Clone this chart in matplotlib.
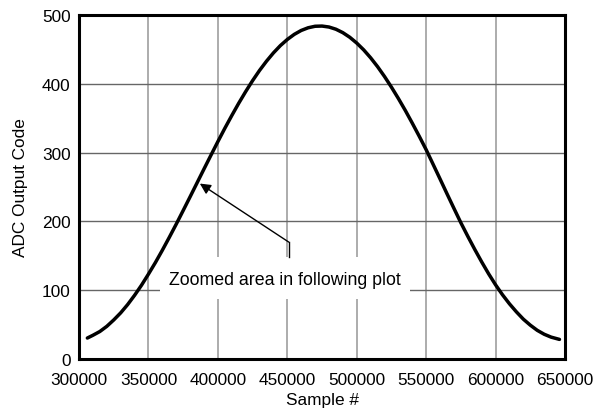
import matplotlib
matplotlib.use("Agg")
import matplotlib.pyplot as plt
from matplotlib.patches import Rectangle

plt.rcParams['font.family'] = ['Liberation Sans', 'DejaVu Sans']

sample = [306000, 310000, 315000, 320000, 325000, 330000, 335000, 340000, 345000,
          350000, 355000, 360000, 365000, 370000, 375000, 380000, 385000, 390000,
          395000, 400000, 405000, 410000, 415000, 420000, 425000, 430000, 435000,
          440000, 445000, 450000, 455000, 460000, 465000, 470000, 475000, 480000,
          485000, 490000, 495000, 500000, 505000, 510000, 515000, 520000, 525000,
          530000, 535000, 540000, 545000, 550000, 555000, 560000, 565000, 570000,
          575000, 580000, 585000, 590000, 595000, 600000, 605000, 610000, 615000,
          620000, 625000, 630000, 635000, 640000, 646000]
code = [30.5, 34.5, 40.0, 47.5, 56.8, 67.1, 79.1, 92.6, 107.3, 123.4, 140.2, 158.1,
        176.8, 196.0, 215.8, 235.8, 256.0, 276.2, 296.2, 316.0, 335.3, 353.8, 371.7,
        388.6, 404.6, 419.4, 432.8, 444.9, 455.5, 464.4, 471.8, 477.5, 481.4, 483.6,
        483.9, 482.5, 479.3, 474.3, 467.6, 459.2, 449.3, 437.8, 424.9, 410.6, 395.1,
        378.6, 361.2, 342.8, 323.8, 304.2, 283.0, 261.7, 240.2, 219.0, 198.0, 178.3,
        159.3, 141.1, 123.8, 107.8, 93.3, 80.2, 68.5, 57.9, 49.2, 41.7, 36.0, 31.8,
        28.5]

xticks = [300000, 350000, 400000, 450000, 500000, 550000, 600000, 650000]
yticks = [0, 100, 200, 300, 400, 500]
annot_text = "Zoomed area in following plot"

fig = plt.figure(figsize=(5.96, 4.14), dpi=100)
ax = fig.add_axes([0.1326, 0.1304, 0.8154, 0.831])
ax.set_xlim(300000, 650000)
ax.set_ylim(0, 500)
ax.set_xticks(xticks)
ax.set_yticks(yticks)
ax.set_xticklabels([str(t) for t in xticks])
ax.tick_params(axis='x', length=0, labelsize=12.4, pad=9, colors='black')
ax.tick_params(axis='y', length=0, labelsize=12.4, pad=6, colors='black')
ax.grid(True, axis='x', color='#a6a6a6', linewidth=1.3)
ax.grid(True, axis='y', color='#666666', linewidth=1)
ax.set_axisbelow(True)
for s in ax.spines.values():
    s.set_linewidth(2.2)
    s.set_color('black')

ax.plot(sample, code, color='black', linewidth=2.5, zorder=3,
        solid_joinstyle='round', solid_capstyle='round')

# white box behind the annotation text
ax.add_patch(Rectangle((358400, 87), 180000, 61, facecolor='white',
                       edgecolor='none', zorder=2))
ax.text(448400, 116, annot_text, ha='center', va='center', fontsize=12.8, zorder=4)
ax.plot([451000, 451000], [148, 170], color='black', linewidth=1, zorder=4)
ax.annotate('', xy=(387000, 255), xytext=(451000, 170),
            arrowprops=dict(arrowstyle='-|>', color='black', lw=1,
                            mutation_scale=16, shrinkA=0, shrinkB=0), zorder=4)

ax.set_xlabel('Sample #', fontsize=12.4, labelpad=4)
ax.set_ylabel('ADC Output Code', fontsize=12.4, labelpad=10)

fig.savefig('out.png', dpi=100)
